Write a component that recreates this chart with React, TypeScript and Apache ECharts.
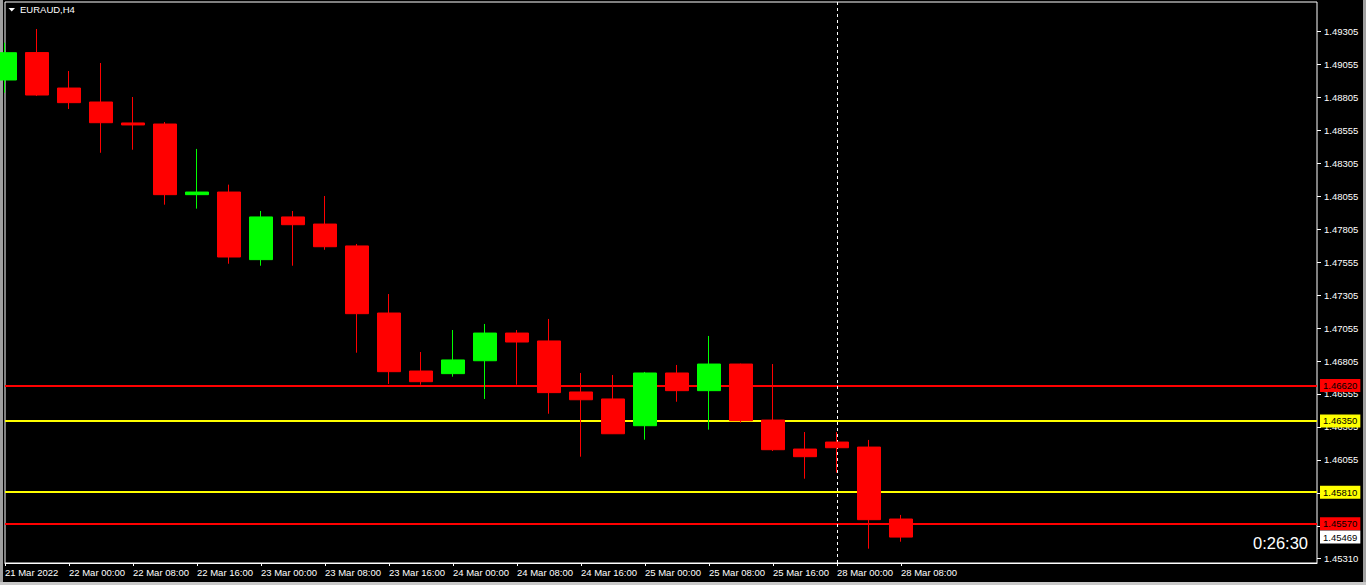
import React, { useEffect, useRef } from "react";
import * as echarts from "echarts";

const times = [
  "2022.03.21 16:00", "2022.03.21 20:00",
  "2022.03.22 00:00", "2022.03.22 04:00", "2022.03.22 08:00", "2022.03.22 12:00", "2022.03.22 16:00", "2022.03.22 20:00",
  "2022.03.23 00:00", "2022.03.23 04:00", "2022.03.23 08:00", "2022.03.23 12:00", "2022.03.23 16:00", "2022.03.23 20:00",
  "2022.03.24 00:00", "2022.03.24 04:00", "2022.03.24 08:00", "2022.03.24 12:00", "2022.03.24 16:00", "2022.03.24 20:00",
  "2022.03.25 00:00", "2022.03.25 04:00", "2022.03.25 08:00", "2022.03.25 12:00", "2022.03.25 16:00", "2022.03.25 20:00",
  "2022.03.28 00:00", "2022.03.28 04:00", "2022.03.28 08:00",
];
const futureSlots = 13;

const opens = [1.48937, 1.49145, 1.48876, 1.4877, 1.48611, 1.48603, 1.48067, 1.48087, 1.47574, 1.47898, 1.47844, 1.47678, 1.47169, 1.46729, 1.46709, 1.46807, 1.47017, 1.46957, 1.4657, 1.46517, 1.46314, 1.46714, 1.4658, 1.46782, 1.46357, 1.46137, 1.4619, 1.46152, 1.45606];
const closes = [1.49144, 1.48823, 1.48765, 1.48613, 1.48596, 1.48067, 1.48087, 1.47594, 1.47898, 1.47839, 1.47672, 1.47164, 1.46724, 1.46648, 1.46813, 1.47017, 1.46949, 1.46565, 1.46511, 1.46253, 1.46714, 1.4658, 1.46782, 1.46352, 1.46132, 1.46079, 1.46147, 1.45601, 1.45469];
const lows = [1.48841, 1.48816, 1.48717, 1.48385, 1.48408, 1.47991, 1.47961, 1.47543, 1.47528, 1.47528, 1.47649, 1.46868, 1.46631, 1.46625, 1.46686, 1.46517, 1.46625, 1.46405, 1.46079, 1.46251, 1.46208, 1.46496, 1.46284, 1.46337, 1.46122, 1.45912, 1.45958, 1.45381, 1.45434];
const highs = [1.4922, 1.49324, 1.49005, 1.49066, 1.48808, 1.48618, 1.48414, 1.48143, 1.47943, 1.47943, 1.48057, 1.47693, 1.47313, 1.46873, 1.4704, 1.47086, 1.4704, 1.47124, 1.46714, 1.46699, 1.46722, 1.46775, 1.46995, 1.46785, 1.46782, 1.46266, 1.46266, 1.46206, 1.45637];

const timeTickLabels = [
  "21 Mar 2022", "22 Mar 00:00", "22 Mar 08:00", "22 Mar 16:00", "23 Mar 00:00", "23 Mar 08:00", "23 Mar 16:00",
  "24 Mar 00:00", "24 Mar 08:00", "24 Mar 16:00", "25 Mar 00:00", "25 Mar 08:00", "25 Mar 16:00", "28 Mar 00:00", "28 Mar 08:00",
];

const priceTicks = [1.49305, 1.49055, 1.48805, 1.48555, 1.48305, 1.48055, 1.47805, 1.47555, 1.47305, 1.47055, 1.46805, 1.46555, 1.46305, 1.46055, 1.45805, 1.45555, 1.4531];

const levelPrices = [1.4662, 1.4635, 1.4581, 1.4557];
const levelColors = ["#ff0000", "#ffff00", "#ffff00", "#ff0000"];
const bidPrice = 1.45469;
const separatorTime = "2022.03.28 00:00";
const symbolTitle = "EURAUD,H4";
const timerText = "0:26:30";

const priceMin = 1.452724;
const priceMax = 1.495288;

const FONT = "'Liberation Sans', Arial, sans-serif";

export default function App() {
  const ref = useRef<HTMLDivElement>(null);

  useEffect(() => {
    document.body.style.margin = "0";
    const chart = echarts.init(ref.current!, null, { renderer: "svg" });
    const cats = times.concat(Array.from({ length: futureSlots }, (_, i) => "f" + i));
    const data = times.map((_, i) => [opens[i], closes[i], lows[i], highs[i]]);
    const showIdx = (i: number) => i % 2 === 0 && i / 2 < timeTickLabels.length;

    const markData: any[] = levelPrices.map((p, i) => ({
      yAxis: p,
      lineStyle: { color: levelColors[i], width: 2, type: "solid" },
      label: { backgroundColor: levelColors[i] },
    }));
    markData.push({
      yAxis: bidPrice,
      lineStyle: { color: "rgba(0,0,0,0)", width: 1 },
      label: { backgroundColor: "#ffffff", opacity: 1 },
    });
    markData.push({
      xAxis: separatorTime,
      lineStyle: { color: "#ffffff", width: 1, type: [3, 3] },
      label: { show: false },
    });

    chart.setOption({
      animation: false,
      backgroundColor: "#000000",
      textStyle: { fontFamily: FONT },
      grid: {
        left: 5, right: 49, top: 2, bottom: 22,
        show: true, borderColor: "#ffffff", borderWidth: 1, backgroundColor: "transparent",
      },
      xAxis: {
        type: "category",
        data: cats,
        boundaryGap: false,
        axisLine: { show: true, lineStyle: { color: "#ffffff", width: 1 } },
        axisTick: { show: true, length: 3, interval: (i: number) => showIdx(i), lineStyle: { color: "#ffffff" } },
        axisLabel: {
          interval: (i: number) => showIdx(i),
          formatter: (_v: string, i: number) => (showIdx(i) ? timeTickLabels[i / 2] : ""),
          align: "left",
          color: "#ffffff",
          fontSize: 9.5,
          fontFamily: FONT,
          margin: 4,
        },
        splitLine: { show: false },
      },
      yAxis: {
        type: "value",
        position: "right",
        min: priceMin,
        max: priceMax,
        axisLine: { show: false },
        axisTick: { show: true, length: 4, customValues: priceTicks, lineStyle: { color: "#ffffff" } },
        axisLabel: {
          customValues: priceTicks,
          formatter: (v: number) => v.toFixed(5),
          color: "#ffffff",
          fontSize: 9.5,
          fontFamily: FONT,
          margin: 7,
        },
        splitLine: { show: false },
      },
      graphic: [
        { type: "rect", shape: { x: 0, y: 0, width: 3, height: 585 }, style: { fill: "#a0a0a0" }, silent: true },
        { type: "rect", shape: { x: 1363, y: 0, width: 3, height: 585 }, style: { fill: "#a0a0a0" }, silent: true },
        { type: "rect", shape: { x: 0, y: 582, width: 1366, height: 3 }, style: { fill: "#c8c8c8" }, silent: true },
        { type: "polygon", shape: { points: [[8.5, 8], [15, 8], [11.75, 11.5]] }, style: { fill: "#ffffff" }, silent: true },
        {
          type: "text", left: 20, top: 4,
          style: { text: symbolTitle, fill: "#ffffff", font: `9.5px ${FONT}` }, silent: true,
        },
        {
          type: "text", right: 58, top: 534,
          style: { text: timerText, fill: "#ffffff", font: `16.5px ${FONT}` }, silent: true,
        },
      ],
      series: [
        {
          type: "candlestick",
          data,
          barWidth: 24,
          clip: true,
          z: 3,
          itemStyle: {
            color: "#00ff00",
            color0: "#ff0000",
            borderColor: "#00ff00",
            borderColor0: "#ff0000",
            borderWidth: 1,
          },
          markLine: {
            silent: true,
            z: 1,
            precision: 5,
            symbol: ["none", "none"],
            label: {
              show: true,
              position: "end",
              distance: 3,
              color: "#000000",
              fontSize: 9.5,
              fontFamily: FONT,
              padding: [2, 3, 1, 3],
              formatter: (p: any) => Number(p.value).toFixed(5),
            },
            data: markData,
          },
        },
      ],
    });
    return () => chart.dispose();
  }, []);

  return (
    <div
      ref={ref}
      style={{ position: "absolute", left: 0, top: 0, width: 1366, height: 585, background: "#000" }}
    />
  );
}
